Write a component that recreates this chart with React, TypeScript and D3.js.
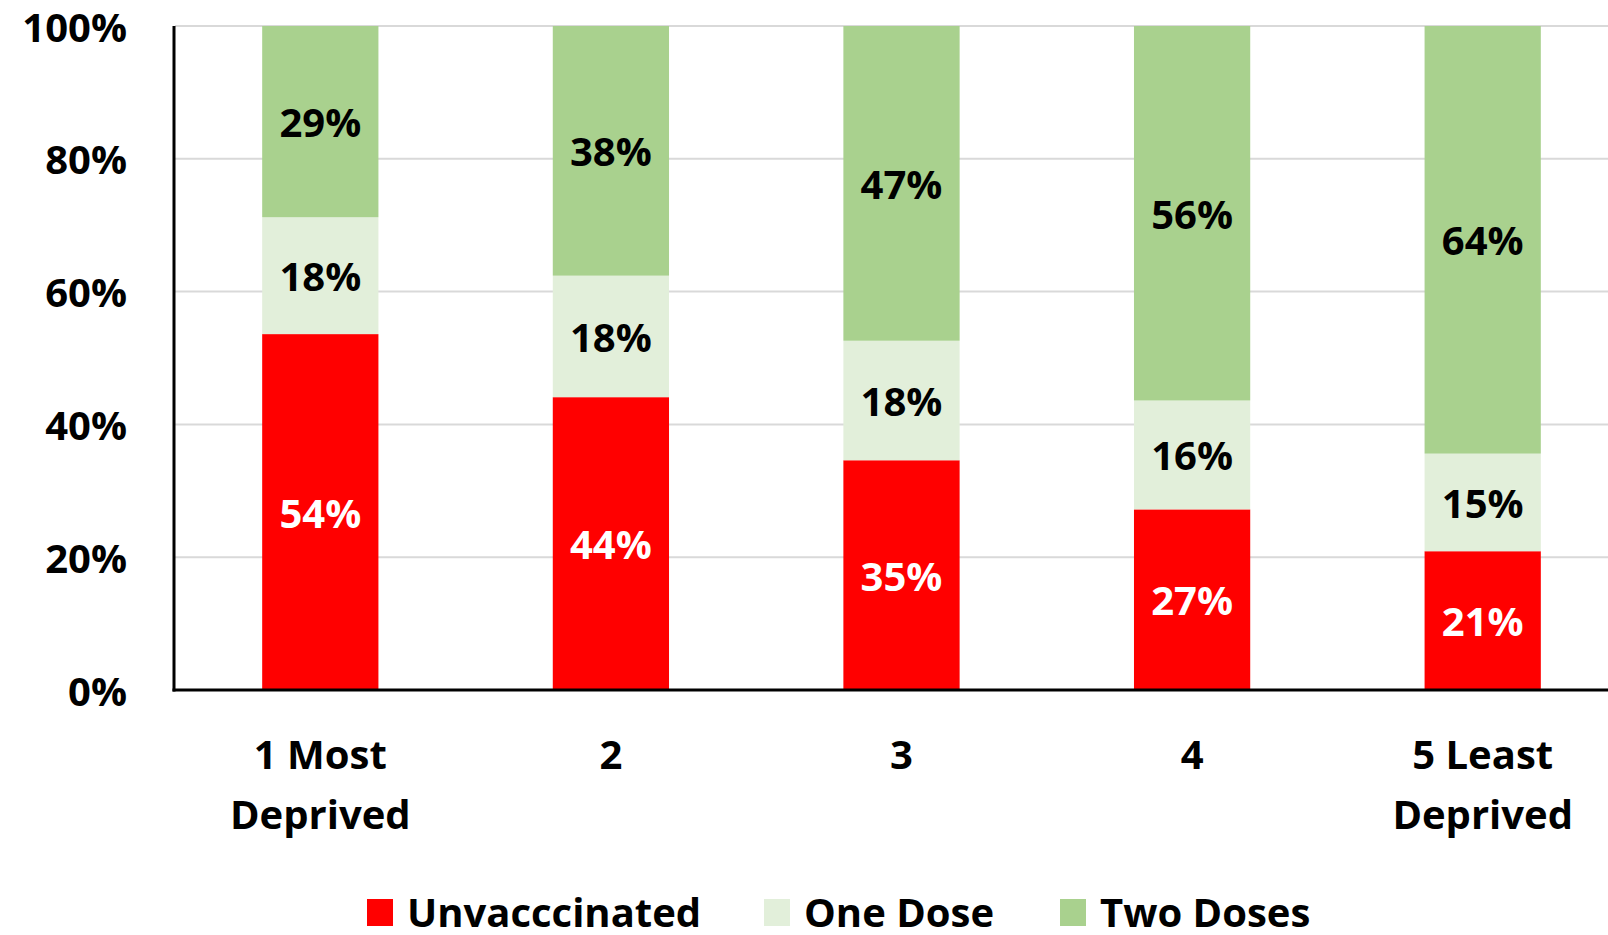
import React from "react";
import * as d3 from "d3";

const categories = ["1 Most Deprived", "2", "3", "4", "5 Least Deprived"];
const categoryLines = [["1 Most", "Deprived"], ["2"], ["3"], ["4"], ["5 Least", "Deprived"]];
const seriesNames = ["Unvacccinated", "One Dose", "Two Doses"];
const unvaccinated = [53.6, 44.1, 34.6, 27.2, 20.9];
const oneDose = [17.6, 18.3, 18.0, 16.4, 14.7];
const twoDoses = [28.8, 37.6, 47.4, 56.4, 64.4];
const yTicks = [0, 20, 40, 60, 80, 100];
const seriesColors = ["#ff0000", "#e2efda", "#a9d18e"];
const labelColors = ["#ffffff", "#000000", "#000000"];

const W = 1608;
const H = 935;
const FONT = "'Open Sans', sans-serif";

export default function App() {
  const x = d3.scaleBand<string>().domain(categories).range([175, 1628]).paddingInner(0.6).paddingOuter(0.3);
  const y = d3.scaleLinear().domain([0, 100]).range([690, 26]);
  const seriesValues = [unvaccinated, oneDose, twoDoses];
  const rows = categories.map((c, i) => ({ cat: c, u: unvaccinated[i], o: oneDose[i], t: twoDoses[i] }));
  const stack = d3.stack<any>().keys(["u", "o", "t"]);
  const stacked = stack(rows);
  const fmt = (v: number) => `${Math.round(v)}%`;

  return (
    <div style={{ position: "absolute", left: 0, top: 0 }}>
      <svg width={W} height={H} style={{ display: "block", background: "#fff" }} fontFamily={FONT}>
        {yTicks.filter((t) => t > 0).map((t) => (
          <line key={t} x1={175} x2={W} y1={y(t)} y2={y(t)} stroke="#d9d9d9" strokeWidth={2} />
        ))}
        {stacked.map((s, si) => (
          <g key={si}>
            {s.map((d, i) => {
              const y0 = y(d[0]);
              const y1 = y(Math.min(d[1], 100));
              const cx = (x(categories[i]) as number) + x.bandwidth() / 2;
              return (
                <g key={i}>
                  <rect x={x(categories[i])} y={y1} width={x.bandwidth()} height={y0 - y1} fill={seriesColors[si]} />
                  <text x={cx} y={(y0 + y1) / 2} textAnchor="middle" dominantBaseline="central" fontSize={40} fontWeight={700} fill={labelColors[si]}>
                    {fmt(seriesValues[si][i])}
                  </text>
                </g>
              );
            })}
          </g>
        ))}
        <line x1={174} x2={174} y1={y(100)} y2={y(0) + 1.5} stroke="#000" strokeWidth={3} />
        <line x1={172.5} x2={W} y1={y(0)} y2={y(0)} stroke="#000" strokeWidth={3} />
        {yTicks.map((t) => (
          <text key={t} x={127} y={y(t)} textAnchor="end" dominantBaseline="central" fontSize={40} fontWeight={700} fill="#000">
            {t}%
          </text>
        ))}
        {categories.map((c, i) => (
          <text key={c} textAnchor="middle" fontSize={40} fontWeight={700} fill="#000">
            {categoryLines[i].map((ln, li) => (
              <tspan key={li} x={(x(c) as number) + x.bandwidth() / 2} y={753 + li * 60} dominantBaseline="central">
                {ln}
              </tspan>
            ))}
          </text>
        ))}
        {seriesNames.map((n, i) => {
          const lx = [367, 764, 1060][i];
          return (
            <g key={n}>
              <rect x={lx} y={899} width={26} height={27} fill={seriesColors[i]} />
              <text x={lx + 40} y={911} dominantBaseline="central" fontSize={40} fontWeight={700} fill="#000">
                {n}
              </text>
            </g>
          );
        })}
      </svg>
    </div>
  );
}
